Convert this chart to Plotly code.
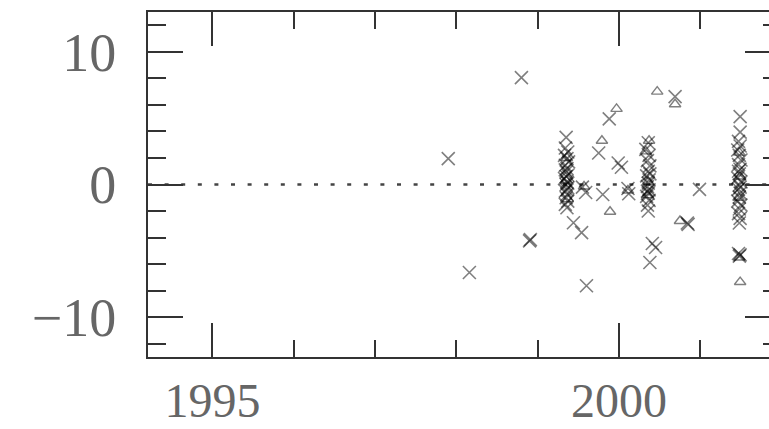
import plotly.graph_objects as go

# Residuals plotted against epoch (year); crosses and triangles are two sample types
cross_year = [
    1997.90, 1998.80, 1998.16, 1998.90, 1998.91, 1999.60, 1999.44, 1999.54,
    1999.80, 1999.75, 1999.88, 1999.99, 2000.03, 2000.69, 2000.99, 2000.85,
    2000.84, 2000.41, 2000.45, 2000.38, 1999.55, 1999.59, 2000.11, 2000.12,
    # group near 1999.35
    1999.35, 1999.34, 1999.37, 1999.33, 1999.36, 1999.38, 1999.34, 1999.36,
    1999.35, 1999.37, 1999.33, 1999.36, 1999.35, 1999.37, 1999.34, 1999.36,
    1999.35, 1999.37, 1999.34, 1999.36, 1999.35, 1999.36, 1999.34, 1999.37,
    # group near 2000.36
    2000.36, 2000.33, 2000.37, 2000.35, 2000.38, 2000.36, 2000.34, 2000.37,
    2000.36, 2000.35, 2000.37, 2000.36, 2000.34, 2000.37, 2000.35, 2000.36,
    2000.38, 2000.35,
    # group near 2001.48
    2001.49, 2001.49, 2001.47, 2001.49, 2001.46, 2001.48, 2001.50, 2001.47,
    2001.49, 2001.48, 2001.46, 2001.50, 2001.48, 2001.47, 2001.49, 2001.48,
    2001.46, 2001.50, 2001.48, 2001.47, 2001.49, 2001.48, 2001.47, 2001.49,
    2001.47, 2001.48, 2001.49,
]
cross_val = [
    1.95, 8.05, -6.63, -4.25, -4.15, -7.63, -2.88, -3.63,
    -0.75, 2.37, 4.95, 1.62, 1.30, 6.62, -0.37, -3.00,
    -2.90, -4.45, -4.75, -5.88, -0.20, -0.60, -0.30, -0.70,
    3.55, 2.75, 2.45, 2.20, 1.95, 1.70, 1.45, 1.20,
    0.95, 0.70, 0.45, 0.20, 0.00, -0.25, -0.50, -0.75,
    -1.00, -1.25, -1.50, -1.75, 0.60, -0.40, 1.10, 0.10,
    3.15, 2.65, 2.20, 1.80, 1.40, 1.00, 0.65, 0.35,
    0.10, -0.15, -0.40, -0.65, -0.90, -1.20, -1.55, -2.00,
    0.80, -0.50,
    5.12, 3.95, 3.25, 2.90, 2.60, 2.20, 1.85, 1.50,
    1.15, 0.80, 0.50, 0.20, -0.05, -0.35, -0.65, -0.95,
    -1.25, -1.55, -1.85, -2.20, -2.55, -2.90, 1.00, -0.20,
    -5.20, -5.40, -5.30,
]

tri_year = [
    1999.36, 1999.35, 1999.37, 1999.57, 1999.89, 1999.79, 1999.97, 2000.11,
    2000.37, 2000.33, 2000.36, 2000.35, 2000.47, 2000.69, 2000.75,
    2001.48, 2001.49, 2001.47, 2001.48, 2001.49,
]
tri_val = [
    2.00, 0.30, -1.10, -0.15, -2.05, 3.30, 5.70, -0.45,
    3.30, 2.50, 0.20, -0.80, 7.00, 6.05, -2.75,
    2.40, 0.60, -1.00, -5.50, -7.35,
]

x_major = [1995, 2000]
y_major = [-10, 0, 10]
y_range = [-13, 13]

ink = "rgba(0,0,0,0.5)"
axis_col = "#333333"
x_font = dict(family="Liberation Serif", size=48, color="#666666")
y_font = dict(family="Liberation Serif", size=54, color="#666666")

fig = go.Figure()
fig.add_trace(go.Scatter(
    x=cross_year, y=cross_val, mode="markers",
    marker=dict(symbol="x-thin-open", size=13, color=ink,
                line=dict(width=1.6, color=ink)),
    showlegend=False,
))
# triangles go on the right-hand axis, which shares the same range as the left one
fig.add_trace(go.Scatter(
    x=tri_year, y=tri_val, mode="markers", yaxis="y2",
    marker=dict(symbol="triangle-up-open", size=10, color=ink,
                line=dict(width=1.4, color=ink)),
    showlegend=False,
))

# dotted zero line
fig.add_shape(type="line", xref="paper", x0=0, x1=1, yref="y", y0=0, y1=0,
              line=dict(color="#444444", width=2.5, dash="4px,12.6px"), layer="below")

fig.update_layout(
    width=769, height=429,
    margin=dict(l=148, r=0, t=12, b=72),
    paper_bgcolor="white", plot_bgcolor="white",
    xaxis=dict(
        range=[1994.207, 2001.845], tickvals=x_major, ticktext=[str(v) for v in x_major],
        ticks="inside", ticklen=34, tickwidth=1.5, tickcolor=axis_col,
        minor=dict(dtick=1, tick0=1995, ticks="inside", ticklen=17, tickwidth=1.5,
                   tickcolor=axis_col, showgrid=False),
        showline=True, linecolor=axis_col, linewidth=2, mirror="ticks",
        showgrid=False, zeroline=False, tickfont=x_font,
        ticklabelstandoff=0, automargin=False,
    ),
    yaxis=dict(
        range=y_range, tickvals=y_major,
        ticktext=["\u221210", "0", "10"],
        ticks="inside", ticklen=35, tickwidth=1.5, tickcolor=axis_col,
        minor=dict(dtick=2, tick0=0, ticks="inside", ticklen=18, tickwidth=1.5,
                   tickcolor=axis_col, showgrid=False),
        showline=True, linecolor=axis_col, linewidth=2, mirror=False,
        showgrid=False, zeroline=False, tickfont=y_font,
        ticklabelstandoff=19, automargin=False,
    ),
    # right-hand frame ticks (the frame line itself sits just past the page edge)
    yaxis2=dict(
        overlaying="y", side="right", range=y_range, tickvals=y_major,
        ticks="inside", ticklen=24, tickwidth=1.5, tickcolor=axis_col,
        minor=dict(dtick=2, tick0=0, ticks="inside", ticklen=6, tickwidth=1.5,
                   tickcolor=axis_col, showgrid=False),
        showline=False, showgrid=False, zeroline=False, showticklabels=False,
        automargin=False,
    ),
)

fig.write_html("out.html")
